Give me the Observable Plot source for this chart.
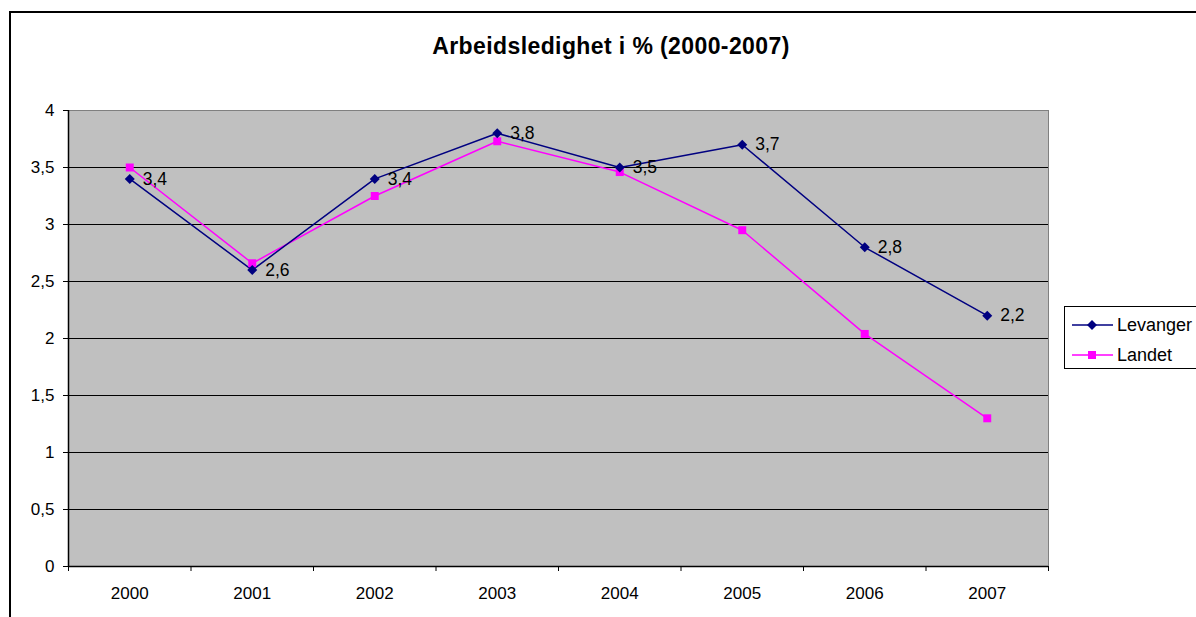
<!DOCTYPE html>
<html>
<head>
<meta charset="utf-8">
<script src="https://cdn.jsdelivr.net/npm/d3@7"></script>
<script src="https://cdn.jsdelivr.net/npm/@observablehq/plot@0.6"></script>
<style>
  html, body { margin: 0; padding: 0; background: #fff; }
  #wrap { position: relative; width: 1196px; height: 617px; overflow: hidden; background: #fff;
          font-family: "Liberation Sans", Arial, sans-serif; }
  #border { position: absolute; left: 9px; top: 11px; width: 1400px; height: 800px;
            border-left: 2px solid #000; border-top: 2px solid #000; }
  #title { position: absolute; left: 361px; width: 500px; top: 32px; text-align: center;
           font-size: 23px; letter-spacing: 0.4px; font-weight: bold; color: #000; line-height: 28px; }
  #chart { position: absolute; left: 0; top: 0; }
  #legend { position: absolute; left: 1064px; top: 306px; width: 150px; height: 61px;
            border: 1px solid #000; background: #fff; }
</style>
</head>
<body>
<div id="wrap">
  <div id="border"></div>
  <div id="title"></div>
  <div id="chart"></div>
  <div id="legend"></div>
</div>
<script>
// ---- data ----
const titleText = "Arbeidsledighet i % (2000-2007)";
const years = [2000, 2001, 2002, 2003, 2004, 2005, 2006, 2007];
const levanger = [3.4, 2.6, 3.4, 3.8, 3.5, 3.7, 2.8, 2.2];
const landet = [3.5, 2.66, 3.25, 3.73, 3.46, 2.95, 2.04, 1.3];
const seriesNames = ["Levanger", "Landet"];
const seriesColors = ["#000080", "#FF00FF"];
const yTicks = [0, 0.5, 1, 1.5, 2, 2.5, 3, 3.5, 4];

const fmt = d => String(d).replace(".", ",");
const levData = years.map((y, i) => ({year: y, value: levanger[i]}));
const lanData = years.map((y, i) => ({year: y, value: landet[i]}));
const bounds = [years[0] - 0.5, ...years.map(y => y + 0.5)];

document.getElementById("title").textContent = titleText;

const chart = Plot.plot({
  width: 1196,
  height: 617,
  marginLeft: 68,
  marginRight: 148,
  marginTop: 110,
  marginBottom: 51,
  style: {fontFamily: "'Liberation Sans', Arial, sans-serif", fontSize: "17px", background: "transparent", color: "#000", overflow: "visible"},
  x: {type: "linear", domain: [bounds[0], bounds[bounds.length - 1]], axis: null, label: null},
  y: {domain: [0, 4], axis: null, label: null},
  marks: [
    Plot.frame({fill: "#c0c0c0", stroke: "#808080"}),
    Plot.ruleY(yTicks.filter(d => d > 0 && d < 4), {stroke: "#000", strokeWidth: 1}),
    Plot.ruleY([0], {stroke: "#000", strokeWidth: 1.5}),
    Plot.ruleX([bounds[0]], {stroke: "#000", strokeWidth: 1.5}),
    Plot.axisY(yTicks, {tickSize: 5, tickPadding: 9, tickFormat: fmt, fontSize: 17, stroke: "#000", label: null}),
    Plot.axisX(bounds, {tickSize: 5, tickFormat: () => "", stroke: "#000", label: null}),
    Plot.axisX(years, {tickSize: 0, tickPadding: 20, tickFormat: d => String(d), fontSize: 17, label: null}),
    Plot.line(lanData, {x: "year", y: "value", stroke: seriesColors[1], strokeWidth: 1.5}),
    Plot.line(levData, {x: "year", y: "value", stroke: seriesColors[0], strokeWidth: 1.5}),
    Plot.dot(lanData, {x: "year", y: "value", symbol: "square", r: 4.5, fill: seriesColors[1]}),
    Plot.dot(levData, {x: "year", y: "value", symbol: "diamond2", r: 4.5, fill: seriesColors[0]}),
    Plot.text(levData, {x: "year", y: "value", text: d => fmt(d.value), dx: 13, textAnchor: "start", fontSize: 17.5, fill: "#000"})
  ]
});
document.getElementById("chart").appendChild(chart);

// legend
const leg = d3.select("#legend").append("svg").attr("width", 150).attr("height", 61)
  .style("font-family", "'Liberation Sans', Arial, sans-serif");
const symbols = [d3.symbolDiamond2, d3.symbolSquare];
seriesNames.forEach((name, i) => {
  const cy = 18 + i * 30;
  leg.append("line").attr("x1", 7).attr("x2", 48).attr("y1", cy).attr("y2", cy)
    .attr("stroke", seriesColors[i]).attr("stroke-width", 1.5);
  leg.append("path").attr("d", d3.symbol(symbols[i], 64)()).attr("transform", `translate(27,${cy})`)
    .attr("fill", seriesColors[i]);
  leg.append("text").attr("x", 52).attr("y", cy).attr("dy", "0.35em").attr("font-size", 18)
    .attr("fill", "#000").text(name);
});
</script>
</body>
</html>
